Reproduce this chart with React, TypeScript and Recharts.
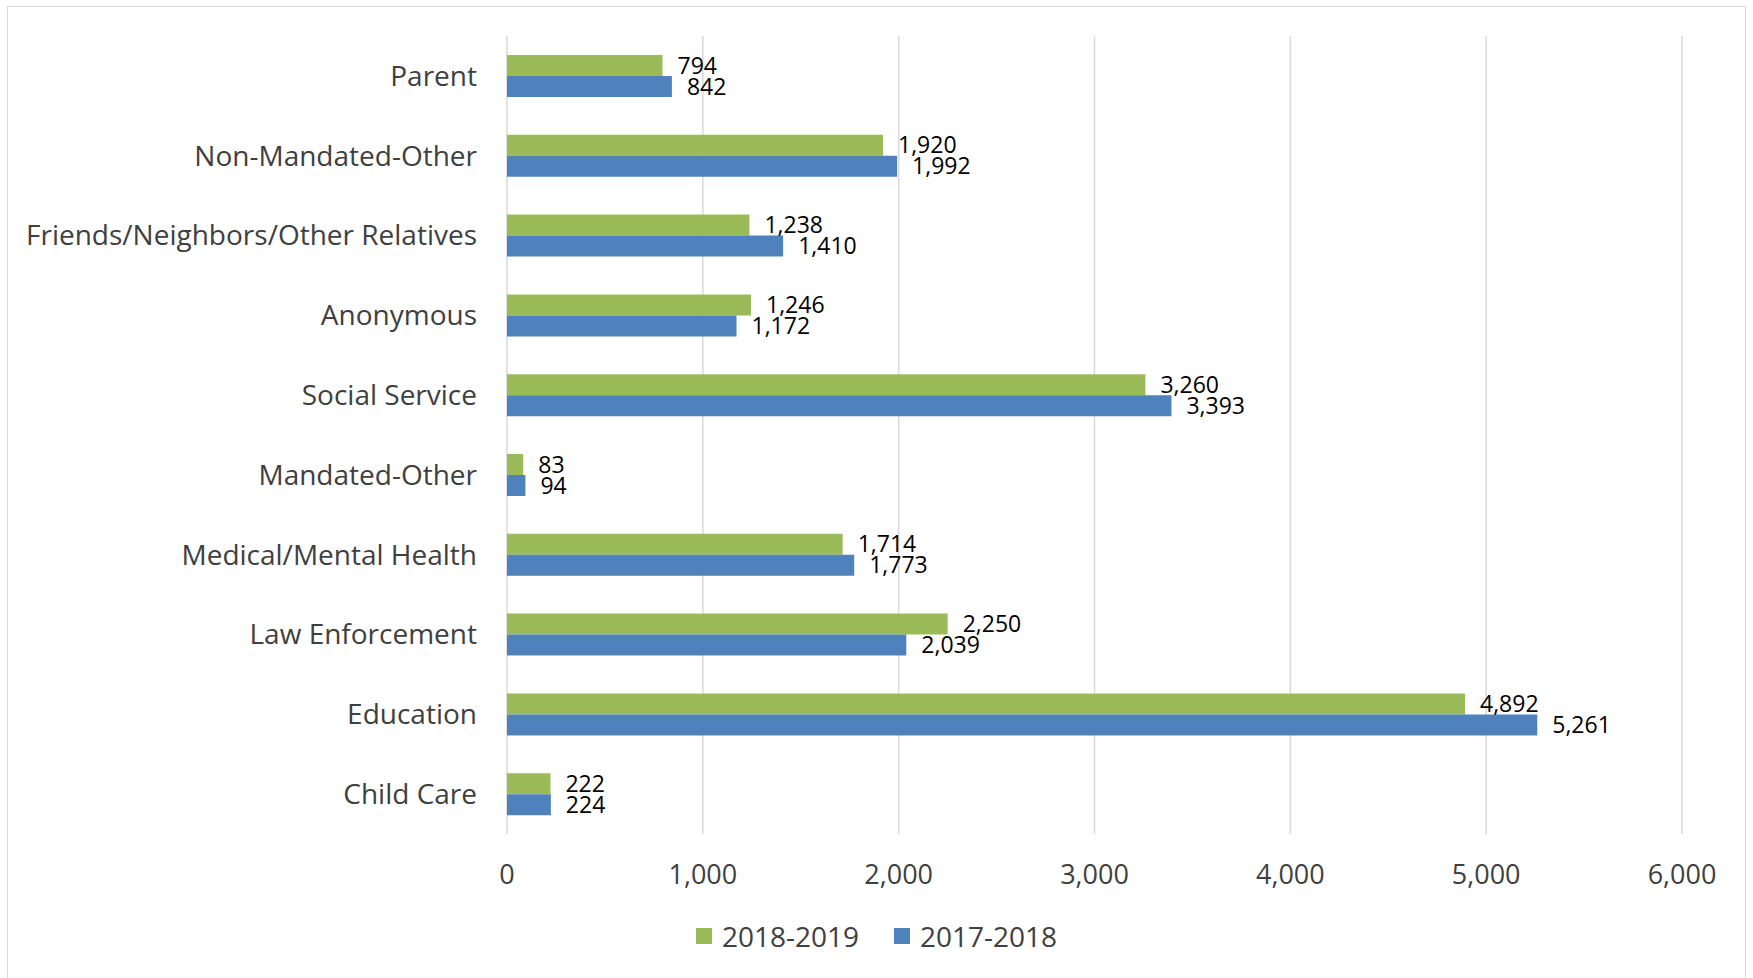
import { BarChart, Bar, XAxis, YAxis, CartesianGrid, Legend, LabelList } from 'recharts'

const categories = [
  'Parent',
  'Non-Mandated-Other',
  'Friends/Neighbors/Other Relatives',
  'Anonymous',
  'Social Service',
  'Mandated-Other',
  'Medical/Mental Health',
  'Law Enforcement',
  'Education',
  'Child Care',
]
const values2018 = [794, 1920, 1238, 1246, 3260, 83, 1714, 2250, 4892, 222]
const values2017 = [842, 1992, 1410, 1172, 3393, 94, 1773, 2039, 5261, 224]
const seriesNames = ['2018-2019', '2017-2018']
const xTicks = [0, 1000, 2000, 3000, 4000, 5000, 6000]

const data = categories.map((name, i) => ({
  name,
  '2018-2019': values2018[i],
  '2017-2018': values2017[i],
}))

const FONT = "'Open Sans', sans-serif"
const fmt = (v: number) => v.toLocaleString('en-US')

function LegendContent({ payload }: any) {
  const items = [...(payload || [])].sort((a: any, b: any) => seriesNames.indexOf(a.value) - seriesNames.indexOf(b.value))
  return (
    <div style={{ display: 'flex', justifyContent: 'center', gap: 35, fontFamily: FONT, fontSize: 28, color: '#404040' }}>
      {items.map((p: any) => (
        <div key={p.value} style={{ display: 'flex', alignItems: 'center', gap: 10 }}>
          <span style={{ width: 16, height: 16, background: p.color, display: 'inline-block' }} />
          <span>{p.value}</span>
        </div>
      ))}
    </div>
  )
}

export default function App() {
  return (
    <div style={{ position: 'absolute', left: 0, top: 0, width: 1753, height: 978, background: '#fff', overflow: 'hidden' }}>
      <div style={{ position: 'absolute', left: 7, top: 6, width: 1737, height: 990, border: '1px solid #d9d9d9' }} />
      <BarChart
        width={1753}
        height={978}
        data={data}
        layout="vertical"
        margin={{ top: 36, right: 71, left: 0, bottom: 84 }}
        barGap={0}
        style={{ fontFamily: FONT }}
      >
        <CartesianGrid horizontal={false} stroke="#d9d9d9" strokeWidth={1.5} />
        <XAxis
          type="number"
          domain={[0, 6000]}
          ticks={xTicks}
          tickFormatter={fmt}
          axisLine={false}
          tickLine={false}
          tickMargin={25}
          height={60}
          tick={{ fontSize: 27, fill: '#404040', fontFamily: FONT }}
        />
        <YAxis
          type="category"
          dataKey="name"
          width={507}
          axisLine={false}
          tickLine={false}
          tickMargin={24}
          interval={0}
          tick={{ fontSize: 28, fill: '#404040', fontFamily: FONT }}
        />
        <Legend
          layout="horizontal"
          verticalAlign="middle"
          align="center"
          wrapperStyle={{ top: 917, left: 0, width: 1753 }}
          content={<LegendContent />}
        />
        <Bar dataKey="2018-2019" fill="#9bbb59" barSize={21} isAnimationActive={false}>
          <LabelList dataKey="2018-2019" position="right" offset={15} formatter={fmt} style={{ fontSize: 23, fill: '#000', fontFamily: FONT }} />
        </Bar>
        <Bar dataKey="2017-2018" fill="#4f81bd" barSize={21} isAnimationActive={false}>
          <LabelList dataKey="2017-2018" position="right" offset={15} formatter={fmt} style={{ fontSize: 23, fill: '#000', fontFamily: FONT }} />
        </Bar>
      </BarChart>
    </div>
  )
}
